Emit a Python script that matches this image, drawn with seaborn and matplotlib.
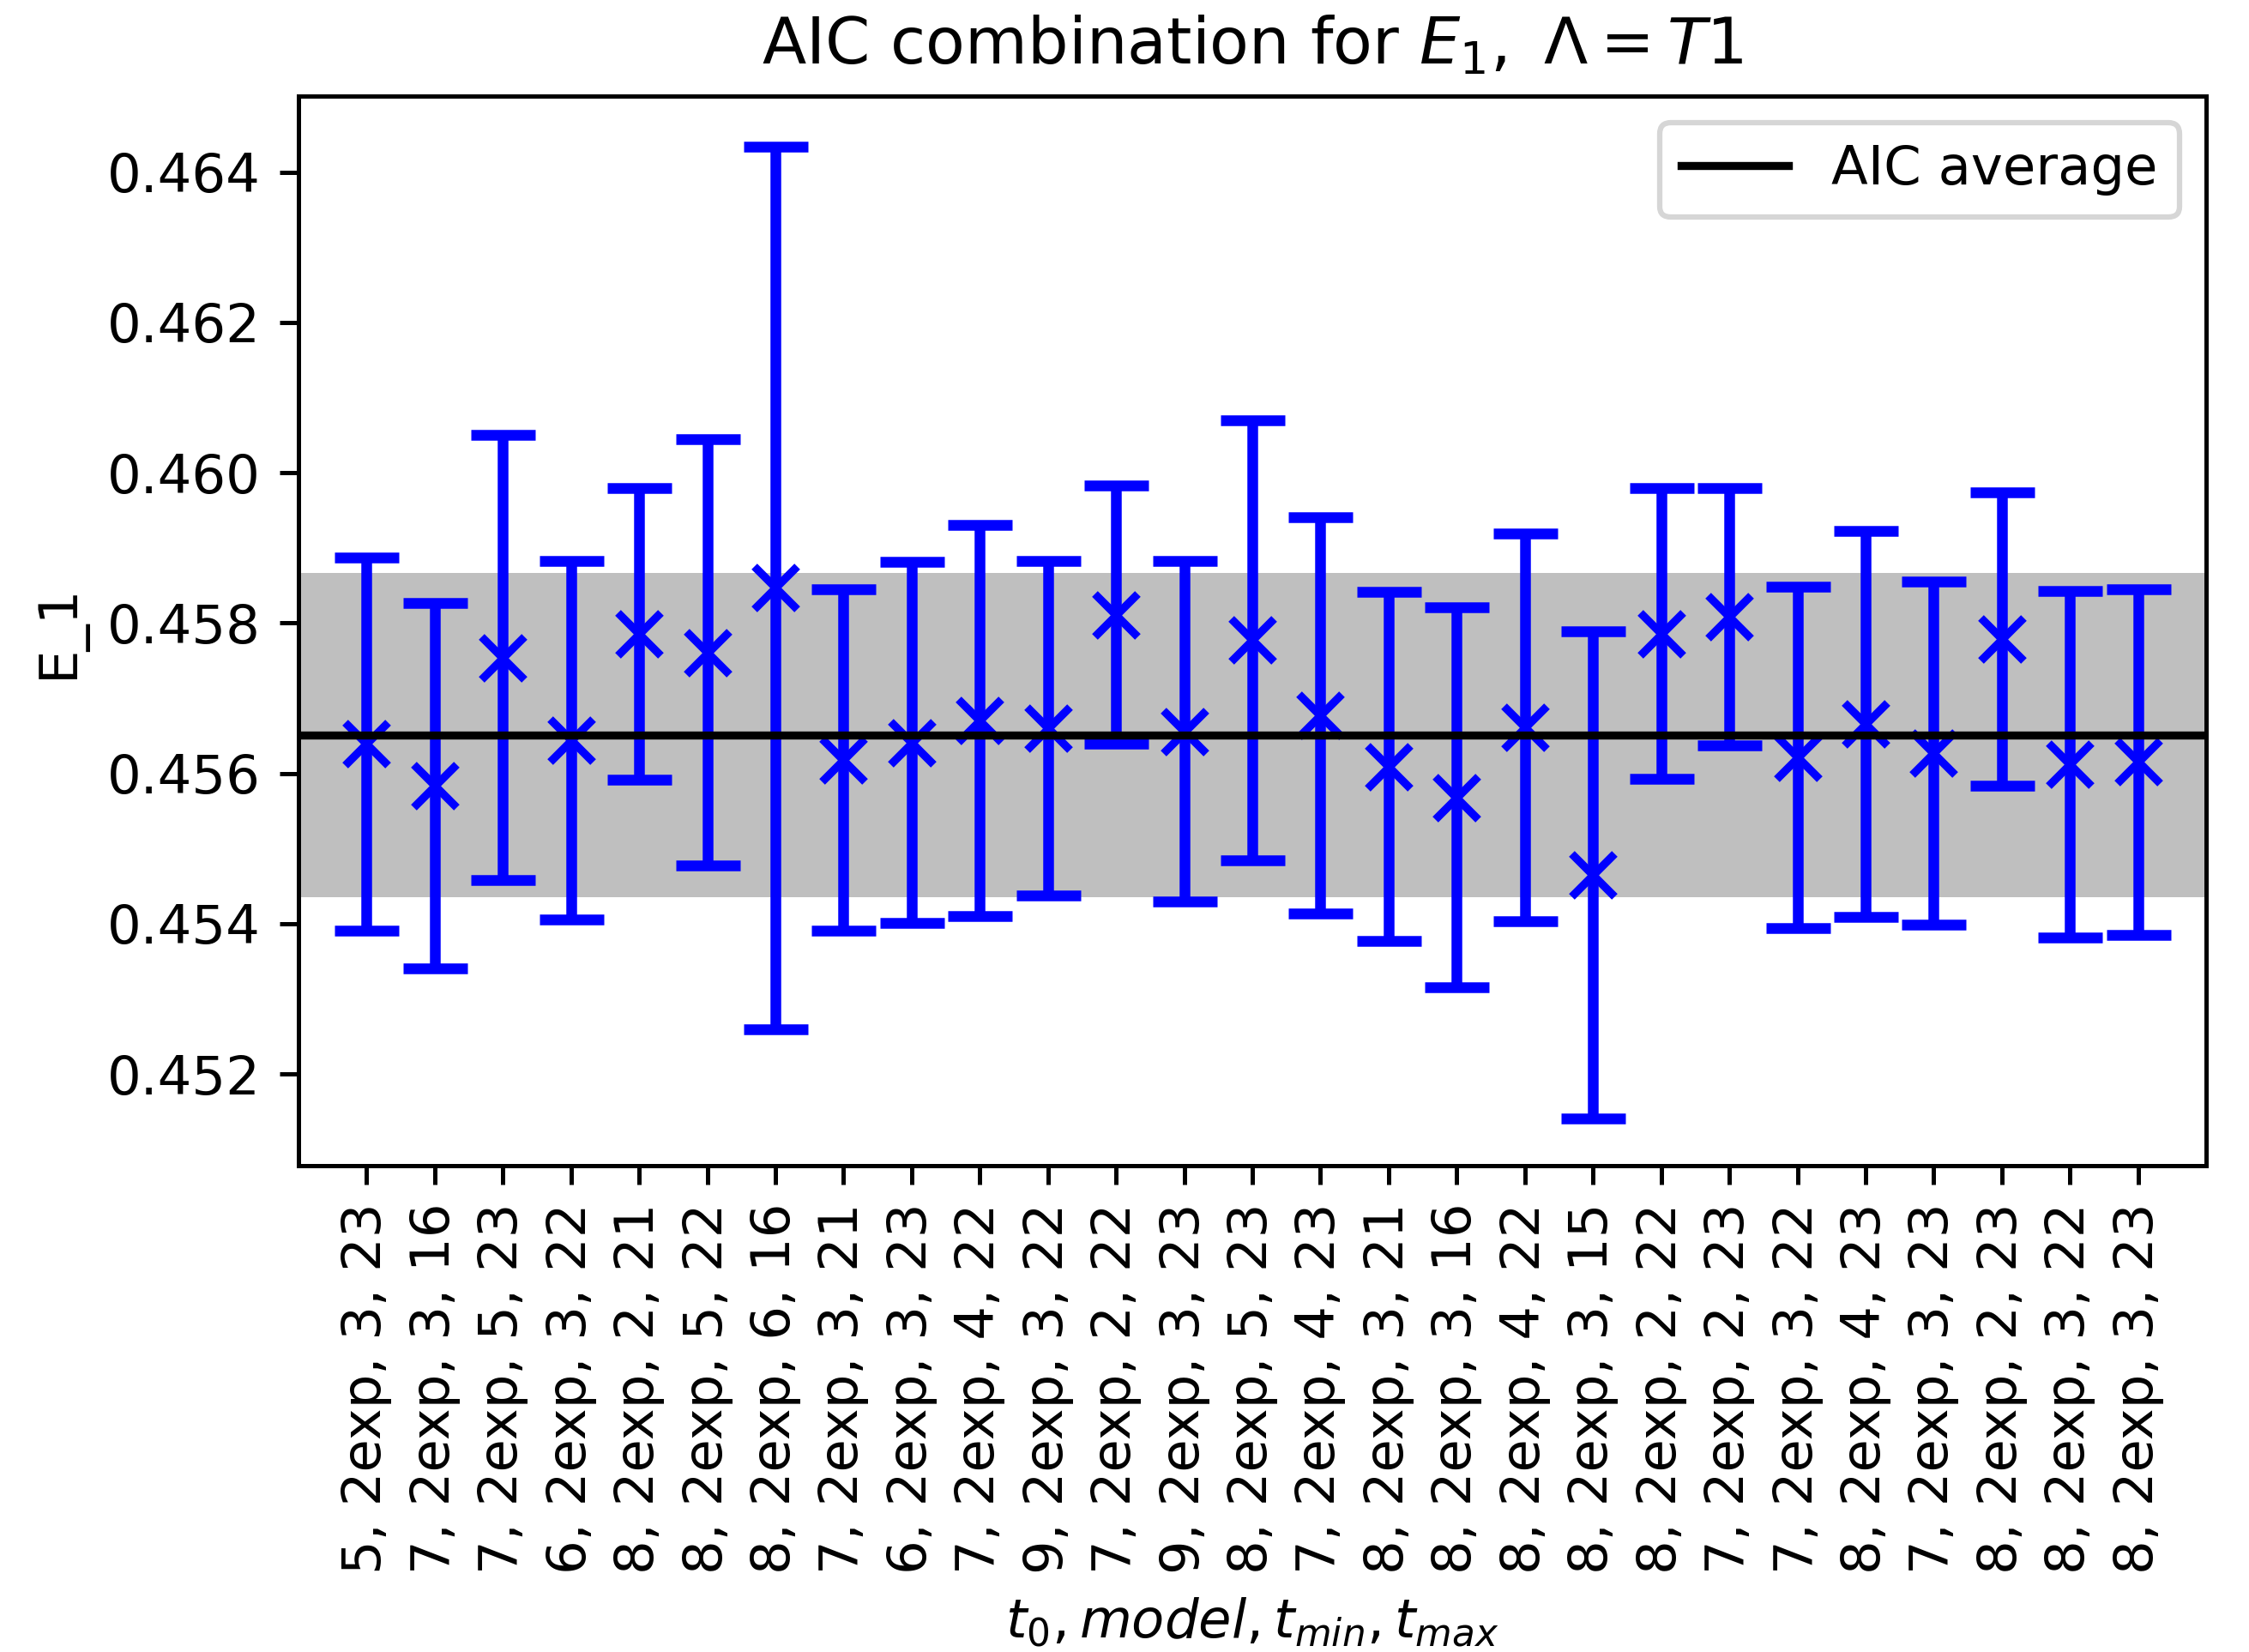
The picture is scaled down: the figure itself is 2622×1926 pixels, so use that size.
import numpy as np
import pandas as pd
import matplotlib
matplotlib.use('Agg')
import matplotlib.pyplot as plt
import seaborn as sns

# fit choices: t0, model, tmin, tmax
t0 = [5, 7, 7, 6, 8, 8, 8, 7, 6, 7, 9, 7, 9, 8, 7, 8, 8, 8, 8, 8, 7, 7, 8, 7, 8, 8, 8]
model = ['2exp'] * 27
tmin = [3, 3, 5, 3, 2, 5, 6, 3, 3, 4, 3, 2, 3, 5, 4, 3, 3, 4, 3, 2, 2, 3, 4, 3, 2, 3, 3]
tmax = [23, 16, 23, 22, 21, 22, 16, 21, 23, 22, 22, 22, 23, 23, 23, 21, 16, 22, 15, 22, 23, 22, 23, 23, 23, 22, 23]

E1 = [0.45639, 0.45584, 0.45754, 0.45644, 0.45785, 0.45761, 0.45847, 0.45618, 0.45641,
      0.45670, 0.45660, 0.45811, 0.45656, 0.45777, 0.45677, 0.45609, 0.45568, 0.45661,
      0.45465, 0.45786, 0.45808, 0.45621, 0.45666, 0.45627, 0.45779, 0.45612, 0.45615]
E1_err = [0.00248, 0.00243, 0.00296, 0.00239, 0.00194, 0.00284, 0.00587, 0.00227, 0.00240,
          0.00260, 0.00223, 0.00172, 0.00226, 0.00293, 0.00264, 0.00232, 0.00253, 0.00258,
          0.00324, 0.00193, 0.00171, 0.00227, 0.00257, 0.00228, 0.00195, 0.00231, 0.00230]

aic_avg = 0.45651
aic_err = 0.00216

labels = [f'{a}, {m}, {b}, {c}' for a, m, b, c in zip(t0, model, tmin, tmax)]
df = pd.DataFrame({'pos': np.arange(len(labels)), 'E1': E1, 'err': E1_err})

fig, ax = plt.subplots(figsize=(2622 / 450, 1926 / 450), dpi=450)
fig.subplots_adjust(left=0.1327, right=0.981, top=0.9418, bottom=0.2944)

ax.axhspan(aic_avg - aic_err, aic_avg + aic_err, color='gray', alpha=0.5, lw=0, zorder=0)
ax.errorbar(df['pos'], df['E1'], yerr=df['err'], fmt='none', ecolor='b',
            elinewidth=2, capsize=6, capthick=2, zorder=2)
sns.scatterplot(data=df, x='pos', y='E1', marker='x', color='b', s=64,
                linewidth=1.5, ax=ax, zorder=3)
ax.axhline(aic_avg, color='k', lw=1.5, label='AIC average', zorder=4)

ax.set_xlim(-1, 27)
ax.set_ylim(0.45078, 0.46501)
ax.set_xticks(df['pos'])
ax.set_xticklabels(labels, rotation=90)
ax.set_xlabel(r'$t_0, model, t_{min}, t_{max}$')
ax.set_ylabel('E_1')
ax.set_title(r'AIC combination for $E_1,\ \Lambda = T1$', fontsize=12)
ax.legend(loc='upper right')

plt.savefig('out.png', dpi=450)
